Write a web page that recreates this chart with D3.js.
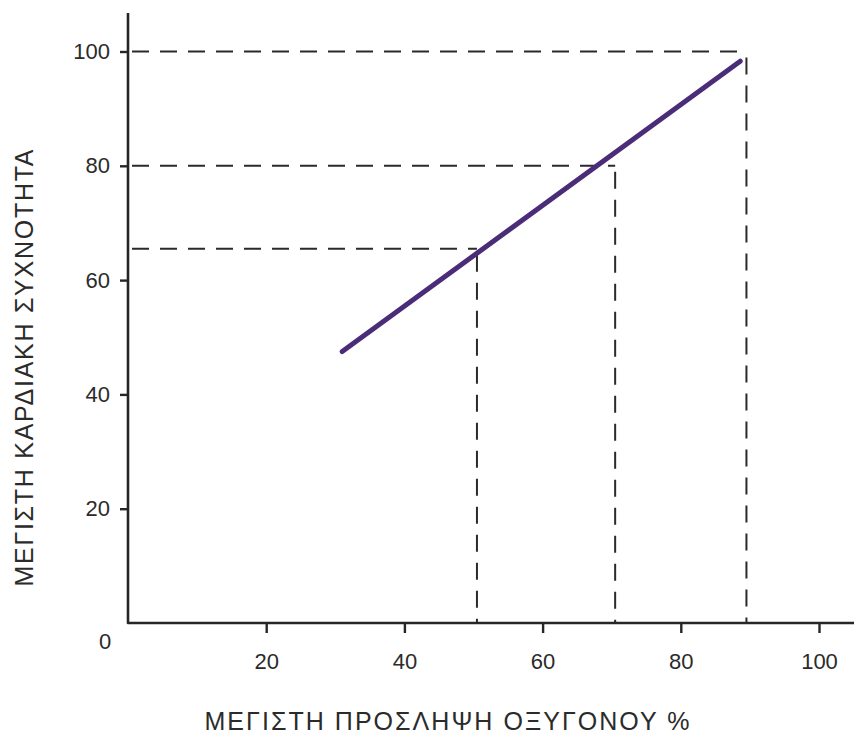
<!DOCTYPE html>
<html>
<head>
<meta charset="utf-8">
<script src="https://cdn.jsdelivr.net/npm/d3@7"></script>
<style>
  html, body { margin: 0; padding: 0; background: #fff; }
  svg { display: block; }
  text { font-family: "Liberation Sans", Arial, Helvetica, sans-serif; fill: #2b2b2b; }
</style>
</head>
<body>
<svg id="chart" width="854" height="736"></svg>
<script>
// Tick values on each axis
const xTicks = [20, 40, 60, 80, 100];
const yTicks = [20, 40, 60, 80, 100];
const originLabel = "0";

// Axis titles
const xTitle = "ΜΕΓΙΣΤΗ ΠΡΟΣΛΗΨΗ ΟΞΥΓΟΝΟΥ %";
const yTitle = "ΜΕΓΙΣΤΗ ΚΑΡΔΙΑΚΗ ΣΥΧΝΟΤΗΤΑ";

// Relationship line: % of max oxygen uptake vs % of max heart rate
const lineX = [31, 88.6];
const lineY = [47.5, 98.3];

// Dashed read-off guides (x on oxygen axis, y on heart-rate axis)
const guideX = [50.5, 70.5, 89.5];
const guideY = [65.5, 80, 100];

const svg = d3.select("#chart");

const x = d3.scaleLinear().domain([0, 100]).range([128, 819]);
const y = d3.scaleLinear().domain([0, 100]).range([623, 51.5]);

const axisColor = "#262626";
const x0 = x(0), y0 = y(0);

// Dashed guides
const guides = svg.append("g")
  .attr("fill", "none")
  .attr("stroke", "#2a2a2a")
  .attr("stroke-width", 2)
  .attr("stroke-dasharray", "17,11");

guideX.forEach((gx, i) => {
  const gy = guideY[i];
  guides.append("line")
    .attr("x1", x0 + 4).attr("y1", y(gy))
    .attr("x2", x(gx)).attr("y2", y(gy));
  guides.append("line")
    .attr("x1", x(gx)).attr("y1", y(gy) + 6)
    .attr("x2", x(gx)).attr("y2", y0);
});

// Axes (ticks and labels via d3-axis)
const yAxis = d3.axisLeft(y).tickValues(yTicks).tickSize(8).tickPadding(10).tickFormat(d3.format("d"));
const xAxis = d3.axisBottom(x).tickValues(xTicks).tickSize(10).tickPadding(20).tickFormat(d3.format("d"));

const gy = svg.append("g").attr("transform", `translate(${x0},0)`).call(yAxis);
const gx = svg.append("g").attr("transform", `translate(0,${y0})`).call(xAxis);

[gy, gx].forEach(g => {
  g.select(".domain").remove();
  g.selectAll(".tick line").attr("stroke", axisColor).attr("stroke-width", 2.4);
  g.selectAll(".tick text")
    .attr("fill", "#2b2b2b")
    .style("font-family", "'Liberation Sans', Arial, sans-serif")
    .style("font-size", "22px");
});

// Axis lines, running past the last tick
svg.append("path")
  .attr("d", `M${x0},13 L${x0},${y0} L854,${y0}`)
  .attr("fill", "none")
  .attr("stroke", axisColor)
  .attr("stroke-width", 2.6)
  .attr("stroke-linejoin", "round");

// Origin label
svg.append("text")
  .attr("x", 105).attr("y", 649)
  .attr("text-anchor", "middle")
  .style("font-size", "22px")
  .text(originLabel);

// Relationship line
const pts = lineX.map((v, i) => [v, lineY[i]]);
svg.append("path")
  .datum(pts)
  .attr("d", d3.line().x(d => x(d[0])).y(d => y(d[1])))
  .attr("fill", "none")
  .attr("stroke", "#4a2c78")
  .attr("stroke-width", 5)
  .attr("stroke-linecap", "round");

// Axis titles
svg.append("text")
  .attr("x", 447).attr("y", 730)
  .attr("text-anchor", "middle")
  .attr("textLength", 485)
  .attr("lengthAdjust", "spacing")
  .style("font-size", "25px")
  .text(xTitle);

svg.append("text")
  .attr("transform", "translate(33,368) rotate(-90)")
  .attr("text-anchor", "middle")
  .attr("textLength", 437)
  .attr("lengthAdjust", "spacing")
  .style("font-size", "25px")
  .text(yTitle);
</script>
</body>
</html>
